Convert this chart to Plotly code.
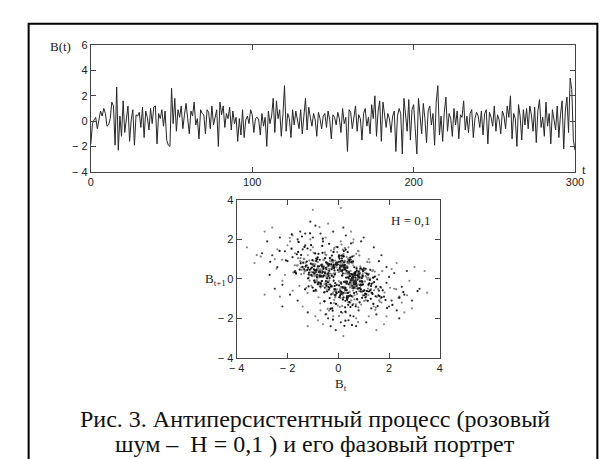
import plotly.graph_objects as go

# ---- data: B(t), t = 0..300 ----
B_t = [
    -1.8, -0.2, 0.1, 0.3, -0.6, 0.2, 0.8, 0.4, 1.0, 0.6, -0.4, -0.3, 0.2, 1.5, 1.2, -1.9, 2.7, -2.3, 0.4, -1.2,
    1.6, -0.9, 0.3, 1.2, -1.6, 0.1, 0.9, -1.9, 0.5, 0.4, 0.7, -0.5, 1.1, -1.3, 0.8, 0.3, -0.7, 1.0, -0.2, 1.1,
    1.2, -1.8, 0.6, 0.2, 0.9, -0.4, 0.8, -1.5, -1.9, -2.0, 2.6, -0.2, 1.8, -0.8, 0.9, 0.3, 1.2, -0.6, 0.5, 1.4,
    0.2, -1.0, 0.8, 0.4, 1.5, -0.3, 0.2, -1.4, 0.9, 0.6, 0.5, -1.0, 0.9, 0.7, -0.6, 1.2, -0.3, 0.4, 0.9, -2.0,
    1.5, 0.5, 1.2, -0.5, 0.6, 0.2, 1.1, -0.7, 0.8, -0.2, 0.3, -1.6, 0.2, -1.1, 0.9, -1.3, 0.1, 0.4, -0.2, 0.9,
    0.5, -0.9, 0.2, 0.3, 0.1, -1.1, 0.6, -0.4, 0.3, -2.0, 0.8, -0.2, 0.4, 1.8, -0.9, 1.6, 0.2, 0.9, -1.2, 0.5,
    2.8, -0.8, 0.6, 0.2, -1.3, 0.9, -0.3, 0.8, 0.2, -0.6, 0.9, -1.0, 0.4, 1.8, -0.7, 1.1, 0.3, -0.4, 0.6, 0.1,
    -1.2, 0.7, 0.2, -0.6, 0.4, 0.6, -0.5, 0.8, 0.1, -1.4, 0.5, 0.3, -0.3, 0.7, 0.2, -0.9, 1.0, -0.2, 0.3, -2.4,
    0.9, 0.7, -0.6, 0.3, 1.2, -0.8, 0.5, 0.2, -1.5, 0.6, 1.0, -0.4, 0.3, -1.0, 1.3, 0.2, 2.0, -1.2, 0.8, 1.6,
    -1.6, 1.5, 0.3, -0.5, 0.6, 0.2, -0.9, 0.4, 0.8, -2.4, 0.4, 1.0, 0.6, -2.6, 1.8, 0.3, -0.8, 1.7, -1.5, 0.9,
    1.3, -0.6, -2.6, 1.8, 0.5, -1.0, 1.4, 0.2, -1.7, 0.8, 1.2, -0.3, 0.6, -1.9, 1.5, 2.8, -1.1, 0.4, -1.6, 0.7,
    1.9, -0.8, 0.6, 0.2, -1.2, 1.0, -0.3, 0.8, -1.4, 0.5, 0.3, 1.6, -0.7, 0.4, -0.9, 0.6, 0.9, -1.3, 0.2, 0.7,
    0.4, -0.5, 0.8, -1.1, 0.6, 0.9, -1.8, 0.7, 0.3, -0.4, 1.2, -0.8, 0.5, 0.1, -1.0, 0.8, 0.4, -0.6, 1.2, 0.3,
    2.0, -1.4, 0.6, 0.2, -2.0, 1.3, 0.4, -1.5, 0.9, -0.3, 1.0, -0.6, 1.2, 0.5, -0.8, 1.1, -1.7, 0.8, 1.7, -0.5,
    0.3, -1.2, 1.5, -0.4, 0.6, -1.8, 0.9, 0.2, -0.7, 1.2, -1.3, 0.5, 1.6, -2.2, 0.8, 1.9, -0.9, 3.4, 2.5, -1.5,
    -2.3,
]

# ---- data: phase portrait points (B_t, B_t+1) ----
phase_x = [
    0.42, -0.87, 1.13, -0.25, 0.66, -1.34, 0.18, 0.95, -0.62, 0.31, -1.08, 1.47, -0.39, 0.12, 0.84, -1.21, 0.57, -0.06, 1.29, -0.73,
    -0.15, 0.92, -1.56, 0.64, 0.27, -0.48, 1.71, -0.94, 0.36, -0.22, 0.79, -1.12, 0.05, 1.38, -0.67, 0.49, -1.83, 0.88, 0.14, -0.41,
    1.02, -0.58, -0.19, 0.71, -1.27, 0.33, 0.96, -0.81, 1.55, -0.35, 0.08, -0.99, 0.62, 1.24, -1.46, 0.21, -0.54, 0.83, -0.11, 0.47,
    -2.31, 1.86, -0.44, 0.09, 0.73, -1.02, 0.28, -0.65, 1.19, 0.55, -0.89, 0.16, -1.38, 1.07, -0.03, 0.61, -0.77, 2.13, -1.19, 0.38,
    0.26, -0.71, 1.41, -1.63, 0.52, 0.17, -0.36, 0.98, -0.84, 1.66, -0.29, 0.43, -1.15, 0.69, -0.08, 1.12, -0.52, -0.24, 0.87, -1.41,
    0.74, -0.13, 0.58, -0.96, 1.33, -0.47, 0.21, -1.72, 1.25, 0.04, -0.61, 0.93, -0.18, 0.39, -1.06, 1.58, -0.91, 0.32, 0.68, -0.37,
    -1.24, 0.85, 0.11, -0.53, 2.41, -1.33, 0.46, -0.27, 0.72, -0.83, 1.16, -0.02, -0.69, 0.54, 1.37, -1.52, 0.19, -0.44, 0.97, 0.23,
    -0.78, 1.44, -1.01, 0.35, -0.17, 0.81, -2.06, 1.09, 0.29, -0.64, 0.13, 1.22, -0.93, 0.51, -0.31, -1.11, 1.75, -0.57, 0.07, 0.66,
    -0.46, 0.94, -1.29, 0.22, 0.61, -0.09, -1.48, 1.53, -0.72, 0.38, 1.01, -0.33, 0.48, -1.66, 0.77, 0.15, -0.59, 1.28, -0.21, -0.86,
    1.18, -0.38, 0.56, -1.19, 0.03, 0.89, -0.68, 1.63, -1.07, 0.26, -0.12, 0.67, -0.95, 2.56, -1.58, 0.44, -0.28, 0.79, -0.49, 0.18,
    -0.97, 1.31, -0.23, 0.59, -1.43, 0.82, 0.34, -0.75, 0.12, -2.68, 1.92, -0.14, 0.63, -0.87, 1.06, 0.28, -1.22, 0.91, -0.41, 0.53,
    0.37, -1.04, 1.49, -0.55, -0.07, 0.76, -1.31, 0.42, 0.99, -0.63, 0.24, -0.19, 1.21, -1.68, 0.58, -0.34, 0.86, 0.02, -0.92, 1.35,
    -0.26, 0.48, -0.81, 3.12, -1.84, 0.69, -0.42, 0.31, -1.17, 1.03, -0.16, 0.57, -0.74, 0.95, 0.11, -1.36, 0.64, -0.05, 1.44, -0.98,
    0.22, 0.71, -0.51, -1.26, 1.67, -0.43, 0.16, -0.88, 1.12, 0.36, -1.53, 0.47, 0.89, -0.32, -0.66, 1.29, -1.09, 0.25, -0.18, 0.83,
    -1.77, 0.96, 0.41, -0.28, 0.68, -0.97, 1.46, -0.62, 0.09, 0.54, -1.23, 2.04, -0.82, 0.13, -0.39, 0.75, -0.11, -1.46, 1.14, -0.36,
    0.62, -0.17, 0.93, -1.48, 0.27, 1.19, -0.71, 0.45, -0.25, -0.93, 1.37, -1.12, 0.51, 0.06, -0.58, 1.73, -0.99, 0.34, -0.47, 0.78,
    -3.05, 2.28, -0.64, 0.19, 0.87, -1.35, 0.53, -0.04, 1.08, -0.79, 0.32, -1.58, 1.26, -0.23, 0.69, -0.91, 0.14, 1.52, -1.03, 0.29,
    0.46, -0.69, 1.23, -0.36, -1.14, 0.92, 0.18, -0.55, 0.74, -1.71, 1.05, -0.12, 0.61, -0.84, 1.41, -0.46, -0.02, 0.86, -1.27, 0.39,
    1.64, -0.94, 0.27, -0.31, 0.58, -2.21, 1.36, 0.08, -0.66, 0.97, -0.42, 0.21, -1.06, 1.15, 0.43, -0.77, 0.35, -0.13, 0.92, -1.58,
    0.81, 0.15, -0.49, 1.08, -0.86, 0.33, -0.21, 1.69, -1.32, 0.57, -0.08, -0.73, 1.27, -0.39, 0.64, -1.16, 0.02, 0.78, -0.52, 2.71,
    -1.91, 0.45, 0.23, -0.82, 1.17, -0.58, 0.39, -1.44, 0.96, 0.12, -0.34, 0.71, -1.02, 1.48, -0.61, 0.27, 0.84, -1.21, 0.52, -0.15,
    -0.63, 1.34, -0.78, 0.18, 0.49, -1.39, 1.82, -0.47, 0.07, -0.96, 0.66, 0.31, -1.49, 0.88, -0.25, 1.02, -0.71, 0.42, -0.09, -1.13,
    1.57, -0.32, 0.61, -1.07, 0.24, 0.79, -2.43, 1.61, -0.54, 0.36, -0.18, 1.11, -0.83, 0.49, 0.03, -1.29, 1.21, -0.44, 0.72, -0.27,
    0.14, -0.91, 1.39, -0.16, -1.62, 0.83, 0.26, -0.48, 1.18, -0.71, 0.38, -0.05, 0.95, -1.34, 0.59, -0.22, -0.87, 1.47, -0.53, 0.31,
    -0.12, 0.68, -1.19, 0.44, 1.06, -0.76, 0.22, -3.21, 2.37, -0.98, 0.63, -0.29, 0.17, 0.88, -1.46, 0.74, -0.36, 0.51, -0.81, 1.24,
]
phase_y = [
    0.35, 0.91, -0.62, 1.18, -0.27, 0.48, -1.05, -0.14, 1.32, 0.06, 0.77, -0.88, -0.41, 0.63, -1.19, 1.54, 0.22, -0.73, -0.36, 0.97,
    -0.52, -0.31, 1.87, 0.19, -1.44, 0.84, -0.93, 0.28, 0.57, -1.61, 0.12, 0.46, 1.03, -1.27, 0.71, -0.08, 2.26, -0.64, 0.39, -0.17,
    -0.83, 0.52, 1.36, -0.24, 0.68, -0.97, 0.15, 1.09, -1.38, -0.46, 0.89, 0.33, -0.72, -0.05, 1.21, 0.58, -1.14, 0.26, 0.74, -1.86,
    1.42, -1.07, 0.03, -0.78, 0.41, 0.95, -2.12, 0.67, -0.29, 1.13, -0.56, 0.18, 0.82, -0.94, 1.61, -0.43, -0.19, -1.32, 0.57, 0.08,
    0.71, -0.38, -0.16, 1.25, -0.87, 0.44, 1.78, -0.62, 0.09, -0.41, -1.23, 0.96, 0.32, -0.15, -0.68, 0.27, 1.05, -1.49, 0.53, 0.61,
    -1.02, 0.23, 0.87, 0.49, -0.71, -0.26, 1.14, 0.36, -0.58, -0.93, 2.04, -0.12, 0.66, -1.31, 0.19, -0.84, 1.29, 0.41, -0.07, -0.55,
    0.88, -0.47, -1.68, 0.31, -0.95, 1.62, 0.14, -0.37, 0.52, 0.99, -1.11, 0.73, -0.21, -2.34, 0.06, 0.47, 1.16, -0.63, -0.29, 0.84,
    1.27, 0.12, -0.44, -1.06, 0.58, 0.37, 0.94, -0.79, 1.48, -0.11, -0.66, -0.23, 0.43, 0.85, -1.52, 2.31, -0.58, 0.17, -0.86, 0.29,
    -0.34, -0.96, 0.62, 1.41, -0.18, -1.27, 0.79, -0.02, 0.38, -0.71, 0.54, 1.06, -1.43, 0.27, -0.49, 0.92, 0.13, -1.01, -2.07, 0.46,
    0.21, 0.67, -1.33, 0.03, 1.19, -0.54, -0.26, -0.88, 1.71, 0.48, -0.82, 0.35, -0.09, -0.67, 1.37, -1.18, 0.74, 0.11, 0.56, -0.43,
    -0.61, -0.25, 0.96, -0.47, 2.15, 0.08, -0.92, 0.64, 1.18, 0.87, -1.48, -0.36, 0.29, 1.03, -0.74, -1.66, 0.45, -0.13, 0.78, 0.24,
    1.36, 0.57, -0.39, -1.14, 0.81, 0.19, -0.53, -0.87, 0.42, 1.67, -2.38, 0.71, -0.64, 0.33, 0.05, -0.97, -0.31, 1.12, -0.18, -0.76,
    0.49, 1.08, -0.27, -0.62, 1.53, -1.39, 0.76, -0.14, 0.23, -0.58, -1.07, 0.91, 2.63, 0.16, -0.42, 1.02, -0.83, -0.29, 0.37, 0.66,
    -0.73, 0.35, 1.24, -0.46, -0.98, 0.62, -1.73, 0.18, 0.07, 0.81, -0.35, -1.21, 0.54, 0.93, -0.11, -0.52, 1.46, -0.68, 0.27, 1.19,
    0.32, -0.84, 0.09, 0.73, -0.39, 1.32, -1.57, 0.48, -0.96, 0.16, 0.69, -0.45, -0.17, 1.74, 0.41, -1.06, -0.61, 0.24, 0.86, -0.28,
    -0.14, 1.51, -0.66, 0.88, 0.27, -0.33, -1.24, 1.07, 0.61, -0.08, 0.44, 0.19, -0.86, -1.42, 0.95, 0.39, 0.72, -0.57, 1.21, -2.19,
    1.13, -0.52, 0.41, -0.97, 0.63, 0.28, -0.19, 1.36, -1.08, 0.55, -0.71, 1.89, 0.02, -0.38, -1.29, 0.74, 0.47, -0.92, 0.16, 0.58,
    -0.44, 0.17, 0.84, -1.61, 0.93, -0.29, 1.48, 0.36, -0.77, 0.69, -0.13, -0.94, 1.17, 0.52, -0.58, 0.04, -1.35, 0.31, 0.42, 1.03,
    -1.16, 0.63, -0.48, 0.26, 1.84, 0.97, -0.21, -0.69, 0.11, 0.47, -1.52, 1.26, -0.35, -0.02, 0.78, 0.43, -0.86, 0.59, -0.24, 1.05,
    0.28, -1.37, 0.55, 0.14, -0.62, 1.11, 0.83, -0.45, 0.38, -0.91, 1.63, -0.19, -0.57, 0.72, -1.04, 0.06, 0.34, 1.42, -0.66, -0.83,
    2.08, -0.23, 0.67, -0.12, -0.49, 0.98, -1.18, 0.45, 0.24, -0.78, 0.51, 1.27, 0.13, -1.46, -0.36, 0.89, 0.02, -0.71, -0.05, 1.58,
    0.74, 0.39, -0.93, 1.22, -0.31, 0.57, -0.69, -1.79, 0.86, 0.21, -0.47, 0.63, 1.05, -0.26, 0.15, -1.12, 0.48, 0.94, -0.58, -0.09,
    -0.51, 1.06, -0.18, 0.35, 0.92, -1.44, 0.52, -1.09, -0.27, 0.64, 1.38, -0.77, 0.11, -0.35, -1.88, 0.82, 0.26, -0.13, 0.58, 0.97,
    0.46, -0.62, 0.07, -1.23, 0.67, 0.21, 1.57, -0.38, -0.82, 0.33, 0.79, -0.53, 0.18, 1.01, -1.26, 0.62, -0.15, -0.44, 1.34, -0.71,
    0.93, -0.14, 0.49, -0.67, 0.31, -0.28, 1.13, 1.21, -0.96, 0.76, -0.43, 1.44, -0.81, -0.52, 0.58, -0.32, 0.17, -1.09, 0.85, -0.06,
]

# ---- data: dense core of the phase portrait ----
core_x = [
    0.12, -0.35, 0.58, -0.09, 0.27, 0.81, -0.64, 0.03, -0.22, 0.46, -0.71, 0.19, 0.93, -0.17, 0.38, -0.52, 0.07, 0.66, -0.91, 0.24,
    -0.05, 0.53, -0.38, 1.12, -0.26, 0.14, 0.72, -0.83, 0.31, -0.11, 0.85, -0.47, 0.02, 0.39, -1.03, 0.61, -0.19, 0.28, 0.97, -0.58,
    0.16, -0.74, 0.44, -0.13, 0.67, -0.31, 1.26, -0.06, 0.22, -0.89, 0.49, 0.08, -0.42, 0.76, -0.21, 0.35, -0.67, 0.11, 0.88, -0.37,
    -0.14, 0.62, -0.95, 0.27, 0.04, -0.53, 0.41, 1.08, -0.28, 0.18, 0.57, -0.81, 0.33, -0.02, 0.71, -0.46, 0.15, -1.17, 0.52, 0.26,
    -0.33, 0.09, 0.79, -0.61, 0.37, -0.18, 0.94, -0.72, 0.21, 0.46, -0.07, 0.63, -0.39, 0.13, -0.86, 0.54, 0.32, -0.24, 1.15, -0.49,
    0.06, -0.63, 0.47, 0.19, -0.12, 0.83, -0.44, 0.29, -0.77, 0.58, 0.23, -0.29, 0.69, -1.08, 0.34, 0.01, -0.56, 0.92, -0.15, 0.41,
    -0.68, 0.17, 0.55, -0.34, 0.07, 0.74, -0.97, 0.36, -0.08, 0.64, 0.28, -0.51, 0.13, 1.01, -0.25, 0.47, -0.79, 0.09, 0.39, -0.16,
    0.82, -0.41, 0.24, -0.62, 0.53, -0.03, 0.67, -0.88, 0.18, 0.31, -0.23, 0.96, -0.47, 0.12, -0.69, 0.43, 0.05, -0.35, 0.78, -0.54,
    0.37, -0.11, 0.61, -0.84, 0.26, 1.19, -0.32, 0.08, -0.58, 0.49, -0.19, 0.72, -0.06, 0.33, -0.93, 0.56, 0.14, -0.44, 0.87, -0.27,
    0.03, 0.45, -0.73, 0.21, 0.64, -0.38, 0.11, -1.06, 0.59, 0.17, -0.48, 0.84, -0.14, 0.36, -0.59, 0.02, 0.75, -0.31, 0.25, -0.82,
    0.51, -0.09, 0.68, -0.45, 0.19, 0.89, -0.66, 0.07, 0.42, -0.21, 1.04, -0.37, 0.15, -0.76, 0.58, -0.12, 0.31, -0.53, 0.73, 0.04,
    -0.28, 0.47, -0.92, 0.22, 0.66, -0.17, 0.38, -0.64, 0.09, 0.81, -0.43, 0.27, 0.53, -0.08, -0.71, 0.35, 0.98, -0.24, 0.13, -0.57,
    0.62, -0.36, 0.18, -0.85, 0.44, 0.06, -0.19, 0.77, -0.49, 0.29,
]
core_y = [
    -0.24, 0.41, 0.13, 0.78, -0.56, 0.07, 0.62, -0.33, 0.92, -0.18, 0.35, -0.71, 0.04, 0.54, -0.96, 0.27, 0.68, -0.12, 0.43, -0.47,
    0.83, -0.08, 0.29, -0.62, 0.16, 1.04, -0.37, 0.21, 0.57, -0.84, -0.13, 0.49, -0.66, 0.32, 0.74, -0.26, 0.09, -1.11, 0.38, 0.61,
    -0.42, 0.18, 0.87, -0.53, 0.06, -0.29, 0.46, 0.71, -0.15, 0.33, 0.97, -0.61, 0.24, -0.04, 0.58, -0.88, 0.13, 0.39, -0.34, 0.76,
    -0.52, 0.22, 0.66, -0.17, 1.13, -0.45, 0.03, 0.51, -0.79, 0.28, 0.09, 0.64, -0.23, 0.44, -0.67, 0.82, 0.17, -0.38, 0.02, 0.55,
    0.73, -0.19, -0.48, 0.36, 0.88, -0.09, 0.47, 0.12, -0.93, 0.26, -0.31, 0.59, 0.14, -0.74, 0.41, 0.05, -0.57, 0.95, 0.23, -0.11,
    0.48, 0.31, -0.83, 0.67, -0.21, 0.11, 0.79, -0.46, 0.34, -0.06, 0.62, -0.39, 0.19, 0.52, -0.14, 0.86, -0.68, 0.07, 0.43, -0.27,
    0.15, 0.69, -0.35, 0.04, 0.58, -0.49, 0.91, 0.26, -0.72, 0.12, -0.18, 0.37, 0.81, -0.58, 0.23, -0.03, 0.64, -0.41, 0.99, 0.17,
    -0.62, 0.28, 0.53, 0.08, -0.36, 0.74, -0.15, 0.46, -1.02, 0.31, 0.56, -0.22, 0.11, 0.67, -0.44, 0.19, 0.84, -0.07, 0.35, -0.69,
    0.24, 0.72, -0.31, 0.48, -0.12, 0.06, 0.93, -0.54, 0.17, 0.41, -0.77, 0.33, 0.58, -0.26, 0.13, 0.79, -0.43, 0.27, -0.09, 0.62,
    0.38, -0.65, 0.09, 0.86, -0.32, 0.51, -0.17, 0.22, 0.68, -0.48, 0.16, 0.44, -0.84, 0.29, 0.57, -0.11, 0.35, 1.07, -0.39, 0.03,
    -0.27, 0.61, 0.18, -0.53, 0.82, 0.07, -0.36, 0.49, 0.24, -0.71, 0.45, -0.14, 0.76, 0.12, -0.59, 0.31, 0.66, -0.22, 0.04, 0.53,
    0.89, -0.37, 0.21, 0.47, -0.08, -0.63, 0.39, 0.14, 0.72, -0.29, 0.05, 0.58, -0.46, 0.83, 0.27, -0.18, 0.11, -0.75, 0.43, 0.64,
    -0.34, 0.19, 0.71, -0.06, 0.36, -0.51, 0.92, 0.25, -0.23, 0.48,
]

# ---- data: sparser outer points of the phase portrait ----
outer_x = [
    -2.1, 1.8, -1.6, 0.4, 2.2, -2.4, -0.7, 1.5, -1.9, 0.9, -2.8, 2.5, -0.3, 1.7, -1.3, 0.2, 2.9, -2.2, -1.0, 1.1,
    -1.8, 0.6, 2.0, -1.5, -0.4, 1.9, -2.6, 0.5, 2.4, -1.2, -0.9, 1.3, -2.0, 3.2, -0.5, 0.3, -1.7, 2.1, -2.3, 1.6,
    -0.1, -1.4, 2.6, -2.5, 0.8, 1.4, -3.0, 0.1, -1.1, 1.9, -2.2, 1.0, -0.6, 2.7, -1.6, 0.7, 2.3, -2.7, -0.2, 1.6,
    -1.3, 2.0, -2.0, 0.3, 1.8, -3.3, 0.9, -1.5, 2.5, -0.8, -1.9, 1.2, -0.4, 2.8, -1.8, 0.4, -2.4, 1.1, 3.5, -1.0,
    -0.7, 2.2, -2.1, 0.6, 1.7, -1.4, -2.9, 0.2, 2.3, -1.2, -0.5, 1.5, -2.3, 2.6, -1.7, 0.8, -3.6, 1.3, -0.9, 2.1,
    -1.6, 0.1, 2.4, -2.5, -0.3, 1.4, -2.6, 0.7, 3.0, -1.1, -0.6, 1.9, -1.8, 0.5, 1.6, -2.2, -1.2, 2.9, -0.2, 1.2,
    0.1, -1.0, 3.4, -2.9,
]
outer_y = [
    1.4, -0.9, 2.0, -2.1, 0.3, 0.6, 2.3, -1.8, -0.8, 1.9, 1.9, -0.4, -2.4, 1.2, 1.7, 2.6, -1.1, -0.3, 2.1, -2.2,
    1.1, -1.9, -1.4, 2.4, -2.0, 0.6, 1.2, 1.8, -2.0, -1.7, 2.7, -1.5, 0.9, -0.5, -1.8, 2.2, 0.4, -1.1, 2.1, 0.9,
    -2.6, 1.5, -0.8, -0.5, -1.6, 1.6, 1.3, -2.2, 2.9, -0.2, -1.4, 2.1, 1.9, 0.4, -1.1, -2.4, -1.6, 0.2, 2.4, -0.6,
    2.3, 0.1, 1.7, -1.7, -2.3, 0.8, -1.3, 0.9, -1.2, -2.1, 1.9, -1.9, 2.8, -0.1, -0.6, 1.6, 1.5, -0.9, -0.7, 1.6,
    -1.6, -0.5, 0.2, 2.0, -1.2, -1.4, 2.4, -2.9, 0.8, 1.2, 2.1, -2.6, -0.9, -1.7, 1.3, 1.4, 1.6, -0.7, -1.9, 0.5,
    0.7, 1.9, -0.9, 1.0, -1.5, -1.4, 2.6, -2.0, 0.6, 2.0, -2.3, -1.9, 2.2, 2.4, 0.2, -0.1, -2.4, -1.5, -1.9, 1.0,
    3.6, 3.5, 0.4, -0.8,
]

top_y_ticks = [-4, -2, 0, 2, 4, 6]
top_y_text = ["− 4", "− 2", "0", "2", "4", "6"]
top_x_ticks = [0, 100, 200, 300]
top_x_text = ["0", "100", "200", "300"]
ph_ticks = [-4, -2, 0, 2, 4]
ph_text = ["− 4", "− 2", "0", "2", "4"]

caption1 = "Рис. 3. Антиперсистентный процесс (розовый"
caption2 = "шум –  H = 0,1 ) и его фазовый портрет"

W, H = 611, 459
def px(x):
    return x / W
def py(y):
    return 1 - y / H

half = len(phase_x) // 2
hc = len(core_x) // 2
ho = len(outer_x) // 2

fig = go.Figure()
fig.add_trace(go.Scatter(x=list(range(len(B_t))), y=B_t, mode="lines",
                         line=dict(color="#262626", width=1),
                         xaxis="x", yaxis="y", hoverinfo="skip", showlegend=False))

dot_sets = [
    (phase_x[half:], phase_y[half:], "#808080"),
    (core_x[hc:], core_y[hc:], "#909090"),
    (outer_x[ho:], outer_y[ho:], "#888888"),
    (phase_x[:half], phase_y[:half], "#111111"),
    (core_x[:hc], core_y[:hc], "#222222"),
    (outer_x[:ho], outer_y[:ho], "#333333"),
]
for xs, ys, col in dot_sets:
    fig.add_trace(go.Scatter(x=xs, y=ys, mode="markers",
                             marker=dict(size=2.2, color=col, line=dict(width=0)),
                             xaxis="x2", yaxis="y2", hoverinfo="skip", showlegend=False))

axis_common = dict(showline=True, linecolor="#444444", linewidth=1, mirror="ticks",
                   ticks="inside", ticklen=5, tickcolor="#444444", tickwidth=1,
                   showgrid=False, zeroline=False,
                   tickfont=dict(family="Liberation Sans", size=11, color="#222222"))

fig.update_layout(
    width=W, height=H, autosize=False,
    margin=dict(l=0, r=0, t=0, b=0),
    paper_bgcolor="white", plot_bgcolor="white",
    xaxis=dict(domain=[px(77), px(575)], range=[0, 300], anchor="y",
               tickvals=top_x_ticks, ticktext=top_x_text, **axis_common),
    yaxis=dict(domain=[py(162), py(32)], range=[-4, 6], anchor="x",
               tickvals=top_y_ticks, ticktext=top_y_text, **axis_common),
    xaxis2=dict(domain=[px(227), px(436)], range=[-4, 4], anchor="y2",
                tickvals=ph_ticks, ticktext=ph_text, **axis_common),
    yaxis2=dict(domain=[py(353), py(191)], range=[-4, 4], anchor="x2",
                tickvals=ph_ticks, ticktext=ph_text, **axis_common),
)

serif = "Liberation Serif"
ann = [
    dict(text="B(t)", x=px(46), y=py(33), font=dict(family=serif, size=13, color="#222")),
    dict(text="t", x=px(584), y=py(160), font=dict(family=serif, size=13, color="#222")),
    dict(text="H = 0,1", x=px(406), y=py(212), font=dict(family=serif, size=13, color="#222")),
    dict(text="B<sub>t</sub>", x=px(334), y=py(380), font=dict(family=serif, size=13, color="#222")),
    dict(text="B<sub>t+1</sub>", x=px(218), y=py(273), xanchor="right",
         font=dict(family=serif, size=13, color="#222")),
    dict(text=caption1, x=px(308), y=py(416), font=dict(family=serif, size=24, color="#111")),
    dict(text=caption2, x=px(308), y=py(442), font=dict(family=serif, size=24, color="#111")),
]
for a in ann:
    a.setdefault("xanchor", "center")
    a.update(xref="paper", yref="paper", yanchor="middle", showarrow=False)
fig.update_layout(annotations=ann)

fig.add_shape(type="rect", xref="paper", yref="paper",
              x0=px(13), x1=px(598), y0=py(10), y1=py(470),
              line=dict(color="black", width=2), fillcolor="rgba(0,0,0,0)")

fig.write_html("out.html")
